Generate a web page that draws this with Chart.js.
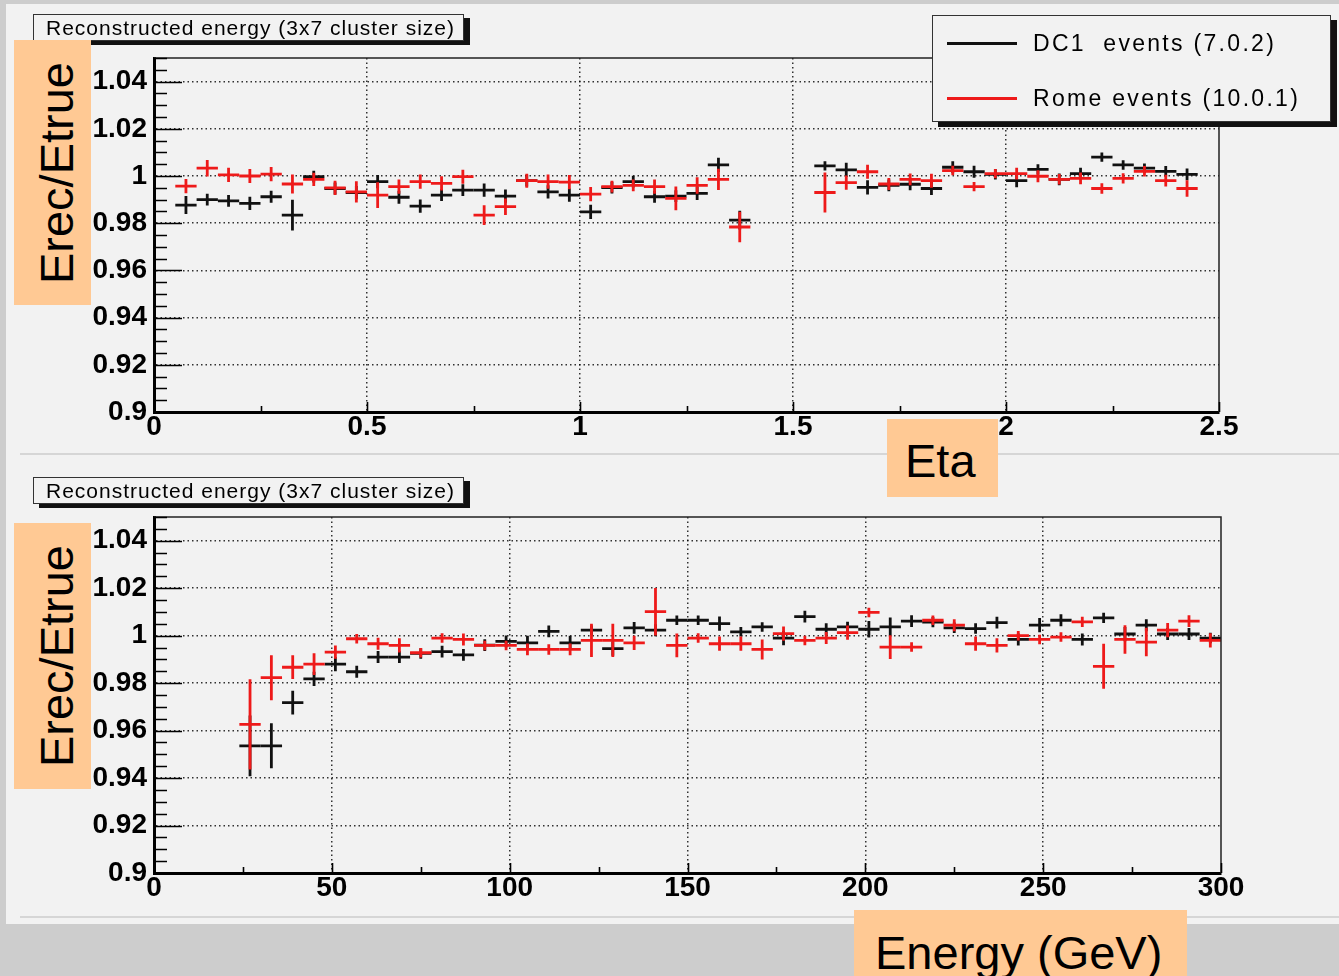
<!DOCTYPE html>
<html>
<head>
<meta charset="utf-8">
<title>Reconstructed energy (3x7 cluster size)</title>
<script src="https://cdn.jsdelivr.net/npm/chart.js@4.4.1/dist/chart.umd.min.js"></script>
<style>
  html, body { margin: 0; padding: 0; }
  body {
    width: 1339px; height: 976px; position: relative; overflow: hidden;
    background: #cdcdcd; font-family: "Liberation Sans", Arial, sans-serif;
  }
  #panel { position: absolute; left: 6px; top: 4px; width: 1333px; height: 920px; background: #f2f2f2; }
  .sep { position: absolute; left: 20px; right: 0; height: 2px; background: #d6d6d6; }
  canvas { position: absolute; left: 0; }
  .title {
    position: absolute; left: 33px; width: 431px; height: 27px; box-sizing: border-box;
    border: 1.5px solid #333; background: #f2f2f2; box-shadow: 6px 4px 0 #111;
    font-size: 21px; letter-spacing: 1px; line-height: 25px; padding-left: 12px; white-space: pre; color: #000;
  }
  #legend {
    position: absolute; left: 932px; top: 15px; width: 399px; height: 107px; box-sizing: border-box;
    border: 1.5px solid #333; background: #f2f2f2; box-shadow: 6px 5px 0 #111;
  }
  .lg-line { position: absolute; left: 14px; width: 70px; height: 3px; }
  .lg-text { position: absolute; left: 100px; font-size: 23px; letter-spacing: 2.3px; white-space: pre; line-height: 24px; color: #000; }
  .tag { position: absolute; background: #ffc994; overflow: hidden; }
  .tag span { position: absolute; font-size: 47px; line-height: 47px; white-space: nowrap; color: #000; }
  .vtag span { left: 50%; top: 50%; transform: translate(-50%, -50%) rotate(-90deg); }
</style>
</head>
<body>
<div id="panel"></div>
<div class="sep" style="top:453px"></div>
<div class="sep" style="top:916px"></div>

<canvas id="etaChart" width="1339" height="455" style="top:0"></canvas>
<canvas id="energyChart" width="1339" height="464" style="top:460px"></canvas>

<div class="title" style="top:14px">Reconstructed energy (3x7 cluster size)</div>
<div class="title" style="top:477px">Reconstructed energy (3x7 cluster size)</div>

<div id="legend">
  <div class="lg-line" style="top:26px;background:#111"></div>
  <div class="lg-text" style="top:15px">DC1  events (7.0.2)</div>
  <div class="lg-line" style="top:81px;background:#ee1a1a"></div>
  <div class="lg-text" style="top:70px">Rome events (10.0.1)</div>
</div>

<div class="tag vtag" style="left:14px;top:40px;width:77px;height:265px"><span style="margin-left:3px">Erec/Etrue</span></div>
<div class="tag vtag" style="left:14px;top:523px;width:77px;height:266px"><span style="margin-left:3px">Erec/Etrue</span></div>
<div class="tag" style="left:887px;top:419px;width:111px;height:78px"><span style="left:18px;top:18px">Eta</span></div>
<div class="tag" style="left:854px;top:910px;width:333px;height:66px"><span style="left:21px;top:19px">Energy (GeV)</span></div>

<script>
// ---- pseudorapidity scan: bin width 0.05 ----
const etaBinWidth = 0.05;
const etaCenters = [
  0.075, 0.125, 0.175, 0.225, 0.275, 0.325, 0.375, 0.425, 0.475, 0.525,
  0.575, 0.625, 0.675, 0.725, 0.775, 0.825, 0.875, 0.925, 0.975, 1.025,
  1.075, 1.125, 1.175, 1.225, 1.275, 1.325, 1.375,
  1.575, 1.625, 1.675, 1.725, 1.775, 1.825, 1.875, 1.925, 1.975, 2.025,
  2.075, 2.125, 2.175, 2.225, 2.275, 2.325, 2.375, 2.425
];
const dc1EtaRatio = [
  0.9877, 0.9900, 0.9895, 0.9884, 0.9912, 0.9834, 0.9997, 0.9947, 0.9930, 0.9976,
  0.9910, 0.9872, 0.9919, 0.9940, 0.9940, 0.9915, 0.9980, 0.9933, 0.9919, 0.9848,
  0.9951, 0.9976, 0.9912, 0.9915, 0.9926, 1.0047, 0.9813,
  1.0043, 1.0026, 0.9952, 0.9960, 0.9965, 0.9947, 1.0037, 1.0018, 1.0007, 0.9980,
  1.0028, 0.9986, 1.0010, 1.0080, 1.0047, 1.0033, 1.0020, 1.0007
];
const dc1EtaError = [
  0.0038, 0.0025, 0.0025, 0.0028, 0.0025, 0.0065, 0.0025, 0.0025, 0.0028, 0.0028,
  0.0028, 0.0028, 0.0025, 0.0025, 0.0028, 0.0028, 0.0025, 0.0028, 0.0028, 0.0030,
  0.0025, 0.0025, 0.0025, 0.0025, 0.0028, 0.0030, 0.0040,
  0.0020, 0.0030, 0.0030, 0.0025, 0.0025, 0.0028, 0.0025, 0.0025, 0.0022, 0.0028,
  0.0022, 0.0025, 0.0025, 0.0020, 0.0020, 0.0020, 0.0022, 0.0025
];
const romeEtaRatio = [
  0.9957, 1.0033, 1.0005, 1.0000, 1.0008, 0.9966, 0.9986, 0.9950, 0.9933, 0.9919,
  0.9955, 0.9976, 0.9969, 0.9997, 0.9834, 0.9870, 0.9980, 0.9976, 0.9974, 0.9923,
  0.9955, 0.9960, 0.9955, 0.9905, 0.9960, 0.9986, 0.9784,
  0.9930, 0.9972, 1.0018, 0.9966, 0.9986, 0.9980, 1.0023, 0.9955, 1.0010, 1.0010,
  0.9999, 0.9986, 0.9990, 0.9947, 0.9990, 1.0020, 0.9980, 0.9947
];
const romeEtaError = [
  0.0030, 0.0035, 0.0030, 0.0030, 0.0030, 0.0040, 0.0028, 0.0030, 0.0045, 0.0055,
  0.0030, 0.0030, 0.0030, 0.0030, 0.0042, 0.0035, 0.0030, 0.0030, 0.0030, 0.0030,
  0.0025, 0.0025, 0.0030, 0.0050, 0.0035, 0.0045, 0.0065,
  0.0085, 0.0030, 0.0030, 0.0025, 0.0025, 0.0030, 0.0020, 0.0020, 0.0020, 0.0025,
  0.0025, 0.0022, 0.0025, 0.0022, 0.0022, 0.0022, 0.0025, 0.0035
];
const etaTickLabels = ['0', '0.5', '1', '1.5', '2', '2.5'];

// ---- energy scan: bin width 6 GeV ----
const energyBinWidth = 6;
const energyCenters = [
  27, 33, 39, 45, 51, 57, 63, 69, 75, 81,
  87, 93, 99, 105, 111, 117, 123, 129, 135, 141,
  147, 153, 159, 165, 171, 177, 183, 189, 195, 201,
  207, 213, 219, 225, 231, 237, 243, 249, 255, 261,
  267, 273, 279, 285, 291, 297
];
const dc1EnergyRatio = [
  0.9536, 0.9536, 0.9718, 0.9818, 0.9880, 0.9848, 0.9910, 0.9910, 0.9925, 0.9933,
  0.9919, 0.9960, 0.9976, 0.9970, 1.0018, 0.9970, 1.0023, 0.9945, 1.0033, 1.0023,
  1.0065, 1.0065, 1.0051, 1.0016, 1.0037, 0.9990, 1.0080, 1.0027, 1.0037, 1.0027,
  1.0037, 1.0061, 1.0057, 1.0033, 1.0030, 1.0055, 0.9984, 1.0044, 1.0065, 0.9984,
  1.0075, 1.0007, 1.0044, 1.0007, 1.0007, 0.9990
];
const dc1EnergyError = [
  0.0128, 0.0095, 0.0050, 0.0030, 0.0030, 0.0025, 0.0025, 0.0025, 0.0022, 0.0025,
  0.0025, 0.0025, 0.0025, 0.0030, 0.0025, 0.0030, 0.0020, 0.0030, 0.0025, 0.0025,
  0.0020, 0.0020, 0.0030, 0.0020, 0.0020, 0.0030, 0.0025, 0.0025, 0.0022, 0.0035,
  0.0040, 0.0025, 0.0022, 0.0022, 0.0022, 0.0025, 0.0025, 0.0030, 0.0025, 0.0025,
  0.0022, 0.0030, 0.0025, 0.0025, 0.0025, 0.0022
];
const romeEnergyRatio = [
  0.9626, 0.9823, 0.9867, 0.9880, 0.9931, 0.9987, 0.9966, 0.9959, 0.9928, 0.9990,
  0.9984, 0.9959, 0.9959, 0.9942, 0.9942, 0.9942, 0.9980, 0.9980, 0.9970, 1.0101,
  0.9959, 0.9990, 0.9966, 0.9966, 0.9942, 1.0009, 0.9980, 0.9990, 1.0013, 1.0098,
  0.9952, 0.9952, 1.0065, 1.0044, 0.9966, 0.9959, 1.0000, 0.9984, 0.9994, 1.0058,
  0.9871, 0.9984, 0.9973, 1.0023, 1.0061, 0.9980
];
const romeEnergyError = [
  0.0190, 0.0095, 0.0050, 0.0046, 0.0028, 0.0020, 0.0025, 0.0030, 0.0020, 0.0020,
  0.0025, 0.0020, 0.0020, 0.0025, 0.0022, 0.0025, 0.0070, 0.0070, 0.0030, 0.0100,
  0.0050, 0.0020, 0.0030, 0.0030, 0.0042, 0.0030, 0.0020, 0.0025, 0.0030, 0.0020,
  0.0050, 0.0020, 0.0020, 0.0025, 0.0030, 0.0030, 0.0020, 0.0020, 0.0020, 0.0022,
  0.0095, 0.0060, 0.0060, 0.0030, 0.0025, 0.0030
];
const energyTickLabels = ['0', '50', '100', '150', '200', '250', '300'];

const ratioTickLabels = ['0.9', '0.92', '0.94', '0.96', '0.98', '1', '1.02', '1.04'];

const seriesNames = ['DC1  events (7.0.2)', 'Rome events (10.0.1)'];
const seriesColors = ['#111111', '#ee1a1a'];

const FONT = '"Liberation Sans", Arial, sans-serif';

function binPoints(centers, values, errors, width) {
  return centers.map((c, i) => ({ x: c, y: values[i], err: errors[i], w: width }));
}

// Draws each bin as a cross: horizontal bar spans the bin, vertical bar spans +/- error
const binCrossPlugin = {
  id: 'binCross',
  afterDatasetsDraw(chart) {
    const { ctx, chartArea: a } = chart;
    const xs = chart.scales.x, ys = chart.scales.y;
    ctx.save();
    ctx.beginPath();
    ctx.rect(a.left, a.top, a.right - a.left, a.bottom - a.top);
    ctx.clip();
    ctx.lineWidth = 2.8;
    ctx.lineCap = 'butt';
    chart.data.datasets.forEach((ds, i) => {
      if (!chart.isDatasetVisible(i)) return;
      ctx.strokeStyle = ds.borderColor;
      ds.data.forEach(p => {
        const xl = xs.getPixelForValue(p.x - p.w / 2);
        const xr = xs.getPixelForValue(p.x + p.w / 2);
        const xc = xs.getPixelForValue(p.x);
        const yc = ys.getPixelForValue(p.y);
        const yl = ys.getPixelForValue(p.y - p.err);
        const yh = ys.getPixelForValue(p.y + p.err);
        ctx.beginPath();
        ctx.moveTo(xl, yc); ctx.lineTo(xr, yc);
        ctx.moveTo(xc, yl); ctx.lineTo(xc, yh);
        ctx.stroke();
      });
    });
    ctx.restore();
  }
};

// Frame box and inward tick marks, ROOT style
const frameTicksPlugin = {
  id: 'frameTicks',
  afterDatasetsDraw(chart, args, opts) {
    const { ctx, chartArea: a } = chart;
    const xs = chart.scales.x, ys = chart.scales.y;
    ctx.save();
    ctx.strokeStyle = '#222';
    ctx.lineWidth = 1.5;
    ctx.beginPath();
    ctx.moveTo(a.left, a.top); ctx.lineTo(a.right, a.top); ctx.lineTo(a.right, a.bottom);
    ctx.stroke();
    ctx.strokeStyle = '#000';
    ctx.lineWidth = 1.6;
    ctx.beginPath();
    // y ticks every quarter of a major step
    const ySub = opts.yStep / 4;
    for (let k = 0; ; k++) {
      const v = ys.min + k * ySub;
      if (v > ys.max + 1e-9) break;
      const py = Math.round(ys.getPixelForValue(v)) + 0.5;
      const len = (k % 4 === 0) ? 28 : 13;
      ctx.moveTo(a.left, py); ctx.lineTo(a.left + len, py);
    }
    // x ticks every half of a major step
    const xSub = opts.xStep / 2;
    for (let k = 0; ; k++) {
      const v = xs.min + k * xSub;
      if (v > xs.max + 1e-9) break;
      const px = Math.round(xs.getPixelForValue(v)) + 0.5;
      const len = (k % 2 === 0) ? 10 : 6;
      ctx.moveTo(px, a.bottom); ctx.lineTo(px, a.bottom - len);
    }
    ctx.stroke();
    ctx.restore();
  }
};

function makeChart(canvasId, cfg) {
  const datasets = [
    { label: seriesNames[0], data: binPoints(cfg.centers, cfg.dc1, cfg.dc1Err, cfg.binWidth),
      borderColor: seriesColors[0], backgroundColor: seriesColors[0], pointRadius: 0, showLine: false },
    { label: seriesNames[1], data: binPoints(cfg.centers, cfg.rome, cfg.romeErr, cfg.binWidth),
      borderColor: seriesColors[1], backgroundColor: seriesColors[1], pointRadius: 0, showLine: false }
  ];
  const xMin = 0, xMax = cfg.xMax;
  return new Chart(document.getElementById(canvasId), {
    type: 'scatter',
    data: { datasets },
    plugins: [binCrossPlugin, frameTicksPlugin],
    options: {
      responsive: false,
      animation: false,
      events: [],
      devicePixelRatio: 1,
      layout: { padding: { top: cfg.padTop, right: cfg.padRight, left: 0, bottom: 0 } },
      plugins: {
        legend: { display: false },
        tooltip: { enabled: false },
        frameTicks: { xStep: cfg.xStep, yStep: 0.02 }
      },
      scales: {
        x: {
          type: 'linear', min: xMin, max: xMax,
          afterFit: s => { s.height = cfg.xAxisHeight; },
          ticks: {
            stepSize: cfg.xStep, autoSkip: false, maxRotation: 0, padding: -2, color: '#000',
            font: { family: FONT, size: 28, weight: 'bold' },
            callback: (v, i) => cfg.xLabels[i]
          },
          grid: {
            drawTicks: false, lineWidth: 1.5,
            color: c => (c.tick && c.tick.value > xMin + 1e-9 && c.tick.value < xMax - 1e-9) ? 'rgba(0,0,0,0.8)' : 'rgba(0,0,0,0)'
          },
          border: { display: true, color: '#000', width: 3, dash: [1.5, 3] }
        },
        y: {
          type: 'linear', min: 0.9, max: 1.05,
          afterFit: s => { s.width = cfg.yAxisWidth; },
          ticks: {
            stepSize: 0.02, includeBounds: false, autoSkip: false, padding: 7, color: '#000',
            font: { family: FONT, size: 28, weight: 'bold' },
            callback: (v, i) => ratioTickLabels[i]
          },
          grid: {
            drawTicks: false, lineWidth: 1.5,
            color: c => (c.tick && c.tick.value > 0.9 + 1e-9) ? 'rgba(0,0,0,0.8)' : 'rgba(0,0,0,0)'
          },
          border: { display: true, color: '#000', width: 3, dash: [1.5, 3] }
        }
      }
    }
  });
}

makeChart('etaChart', {
  centers: etaCenters, binWidth: etaBinWidth,
  dc1: dc1EtaRatio, dc1Err: dc1EtaError, rome: romeEtaRatio, romeErr: romeEtaError,
  xMax: 2.5, xStep: 0.5, xLabels: etaTickLabels,
  padTop: 58, padRight: 120, xAxisHeight: 43, yAxisWidth: 154
});

makeChart('energyChart', {
  centers: energyCenters, binWidth: energyBinWidth,
  dc1: dc1EnergyRatio, dc1Err: dc1EnergyError, rome: romeEnergyRatio, romeErr: romeEnergyError,
  xMax: 300, xStep: 50, xLabels: energyTickLabels,
  padTop: 57, padRight: 118, xAxisHeight: 51, yAxisWidth: 154
});
</script>
</body>
</html>
